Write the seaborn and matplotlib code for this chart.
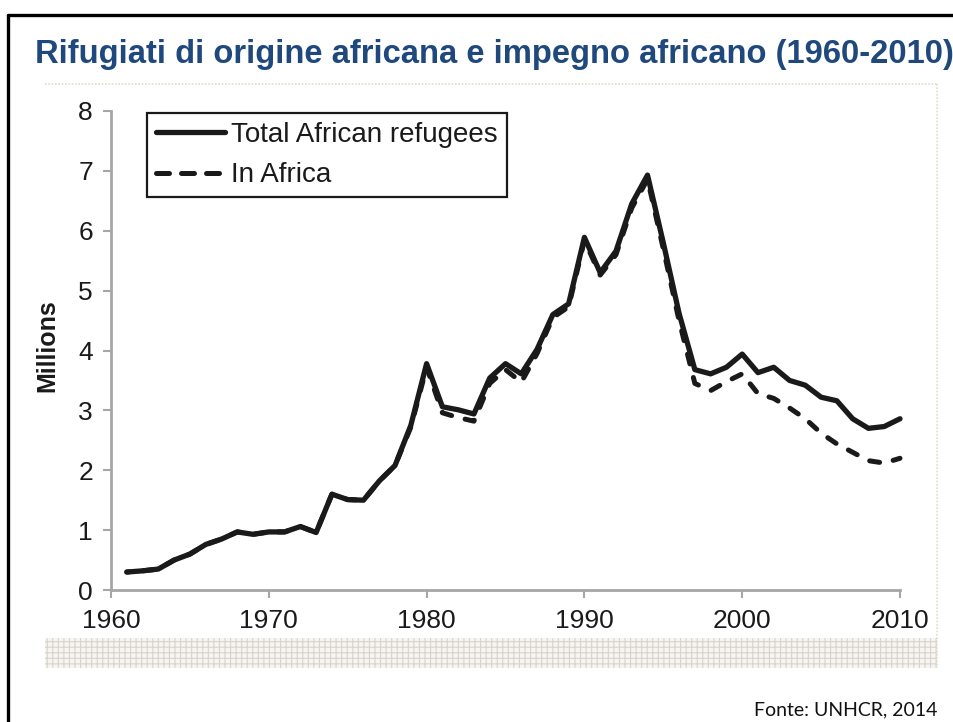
import numpy as np
import pandas as pd
import matplotlib
matplotlib.use("Agg")
import matplotlib.pyplot as plt
import matplotlib.lines as mlines
import matplotlib.patches as mpatches
import seaborn as sns

# Refugees of African origin, millions
years = list(range(1961, 2011))
total_african = [0.30, 0.32, 0.35, 0.50, 0.60, 0.76, 0.85, 0.97, 0.93, 0.97,
                 0.97, 1.06, 0.96, 1.60, 1.51, 1.50, 1.82, 2.08, 2.75, 3.78,
                 3.06, 3.01, 2.94, 3.54, 3.78, 3.61, 4.02, 4.60, 4.78, 5.89,
                 5.30, 5.66, 6.45, 6.93, 5.80, 4.62, 3.68, 3.61, 3.72, 3.94,
                 3.63, 3.72, 3.50, 3.42, 3.22, 3.16, 2.86, 2.70, 2.73, 2.86]
in_africa = [0.30, 0.32, 0.35, 0.50, 0.60, 0.76, 0.85, 0.97, 0.93, 0.97,
             0.97, 1.06, 0.96, 1.60, 1.51, 1.50, 1.82, 2.08, 2.72, 3.72,
             2.96, 2.88, 2.82, 3.45, 3.68, 3.47, 3.95, 4.55, 4.73, 5.84,
             5.26, 5.60, 6.38, 6.86, 5.70, 4.50, 3.45, 3.33, 3.48, 3.61,
             3.28, 3.20, 3.04, 2.86, 2.62, 2.44, 2.30, 2.16, 2.12, 2.20]
series_labels = ["Total African refugees", "In Africa"]
x_ticks = [1960, 1970, 1980, 1990, 2000, 2010]
y_ticks = list(range(0, 9))

title_text = "Rifugiati di origine africana e impegno africano (1960-2010)"
source_text = "Fonte: UNHCR, 2014"
y_label = "Millions"

df = pd.DataFrame({"year": years, "total": total_african, "africa": in_africa})

sns.set_theme(style="white")
plt.rcParams["font.family"] = ["Liberation Sans", "DejaVu Sans"]

W, H = 954, 722
fig = plt.figure(figsize=(W / 100, H / 100), dpi=100)
fig.patch.set_facecolor("white")


def fx(px):
    return px / W


def fy(py):
    return 1 - py / H


# slide frame (top and left edges)
fig.add_artist(mlines.Line2D([fx(8), 1.0], [fy(15), fy(15)], color="black",
                             lw=2.4, transform=fig.transFigure))
fig.add_artist(mlines.Line2D([fx(8), fx(8)], [fy(15), 0.0], color="black",
                             lw=2.4, transform=fig.transFigure))

# faint dotted frame of the embedded chart
frame_col = "#e3dccd"
fig.add_artist(mlines.Line2D([fx(45), fx(937)], [fy(84), fy(84)], color=frame_col,
                             lw=1.2, ls=(0, (1, 1)), transform=fig.transFigure))
fig.add_artist(mlines.Line2D([fx(937), fx(937)], [fy(84), fy(668)], color=frame_col,
                             lw=1.2, ls=(0, (1, 1)), transform=fig.transFigure))

# textured band under the x axis
plt.rcParams["hatch.linewidth"] = 0.8
band = mpatches.Rectangle((fx(45), fy(668)), fx(937) - fx(45), fy(638) - fy(668),
                          transform=fig.transFigure, facecolor="#f7f5f1",
                          edgecolor="#d8d4cd", hatch="+++", lw=0)
fig.add_artist(band)

# title
fig.text(fx(35), fy(55), title_text, color="#1F497D", fontsize=23.6,
         fontweight="bold", ha="left", va="center",
         family=["Liberation Sans Narrow", "Liberation Sans", "DejaVu Sans"])

# source
fig.text(fx(937), fy(710), source_text, color="#111111", fontsize=14,
         ha="right", va="center", family=["Lato", "DejaVu Sans"])

# y axis title
fig.text(fx(47), fy(346), y_label, rotation=90, fontsize=18, fontweight="bold",
         color="#1a1a1a", ha="center", va="center")

ax = fig.add_axes([fx(111), fy(590), fx(900) - fx(111), fy(111) - fy(590)])
ax.set_facecolor("none")

sns.lineplot(data=df, x="year", y="total", ax=ax, color="#1a1a1a", lw=3.8,
             solid_capstyle="round", solid_joinstyle="round", clip_on=False)
sns.lineplot(data=df, x="year", y="africa", ax=ax, color="#1a1a1a", lw=3.6,
             linestyle=(1.5, (2.0, 2.8)), dash_capstyle="round",
             dash_joinstyle="round", clip_on=False)

ax.set_xlim(1960, 2010)
ax.set_ylim(0, 8)
ax.set_xticks(x_ticks)
ax.set_yticks(y_ticks)
ax.set_xlabel("")
ax.set_ylabel("")

axis_col = "#a6a6a6"
for side in ["top", "right"]:
    ax.spines[side].set_visible(False)
for side in ["left", "bottom"]:
    ax.spines[side].set_color(axis_col)
    ax.spines[side].set_linewidth(2.0)
ax.tick_params(axis="both", which="major", direction="out", length=6,
               width=1.5, color=axis_col, labelsize=19, labelcolor="#1a1a1a")
ax.tick_params(axis="y", pad=7)
ax.tick_params(axis="x", pad=8)
ax.xaxis.set_ticks_position("bottom")
ax.yaxis.set_ticks_position("left")

handles = [mlines.Line2D([], [], color="#1a1a1a", lw=3.8, solid_capstyle="round"),
           mlines.Line2D([], [], color="#1a1a1a", lw=3.6, dashes=(2.6, 2.4),
                         dash_capstyle="round")]
leg = ax.legend(handles, series_labels, loc="upper left",
                bbox_to_anchor=(fx(147), fy(113)), bbox_transform=fig.transFigure,
                fontsize=20, frameon=True, fancybox=False, framealpha=1,
                edgecolor="#1a1a1a", borderaxespad=0, borderpad=0.32,
                handlelength=2.5, handletextpad=0.22, labelspacing=0.52)
leg.get_frame().set_linewidth(1.6)
for t in leg.get_texts():
    t.set_color("#1a1a1a")

fig.savefig("out.png", dpi=100, facecolor="white")
